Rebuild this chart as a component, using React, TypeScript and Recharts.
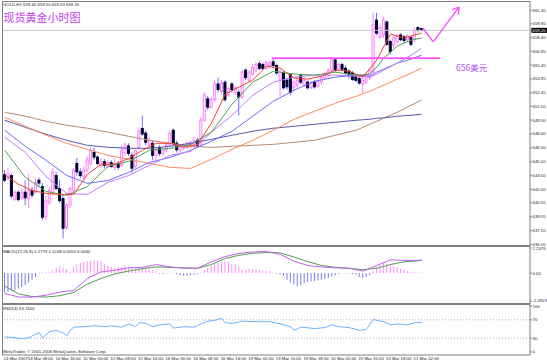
import { ComposedChart, Bar, Line, XAxis, YAxis, ReferenceLine } from 'recharts';

const W = 547;
const H = 363;

// GOLD H1 candles, bar 0 = first bar on screen
const opens = [
  643.6, 643.2, 643.5, 640.9, 641.7, 641.1, 641.7, 641.0, 641.9, 641.7,
  643.0, 642.3, 639.1, 640.6, 641.7, 643.5, 642.1, 641.0, 637.9, 640.3,
  641.9, 644.8, 643.9, 643.4, 644.1, 644.8, 646.0, 645.5, 644.6, 645.0,
  644.5, 644.9, 644.4, 644.8, 644.6, 646.0, 646.7, 645.7, 644.5, 646.5,
  648.6, 648.1, 646.8, 647.0, 645.7, 646.5, 645.9, 646.3, 646.8, 648.4,
  647.0, 646.3, 646.5, 646.6, 646.7, 646.9, 647.3, 646.9, 649.5, 651.8,
  650.9, 651.7, 653.4, 652.6, 653.6, 652.2, 653.4, 652.5, 652.5, 652.0,
  654.9, 653.8, 654.5, 654.9, 655.6, 655.5, 655.1, 655.4, 655.8, 655.4,
  653.8, 654.6, 653.8, 654.4, 653.0, 653.3, 654.3, 653.3, 653.6, 653.0,
  653.6, 653.2, 653.6, 654.1, 654.3, 654.9, 656.0, 655.1, 655.5, 655.1,
  654.8, 654.6, 654.2, 654.0, 653.4, 653.6, 654.1, 654.7, 660.3, 658.5,
  658.7, 660.1, 658.0, 657.6, 658.0, 658.7, 658.5, 658.2, 658.4, 658.2,
  659.5, 659.4,
];
const highs = [
  644.1, 644.3, 643.7, 641.9, 641.9, 642.1, 643.0, 643.7, 642.3, 643.2,
  643.3, 642.7, 641.3, 642.3, 644.3, 643.9, 643.0, 641.4, 640.5, 642.3,
  644.3, 645.4, 644.3, 644.5, 645.6, 646.6, 646.5, 645.7, 645.4, 645.3,
  645.2, 645.2, 645.4, 645.1, 646.7, 647.1, 647.0, 646.0, 645.7, 648.7,
  650.0, 648.4, 647.7, 647.3, 646.5, 646.8, 646.5, 647.1, 648.4, 648.6,
  647.3, 646.9, 647.0, 647.2, 647.3, 647.7, 647.6, 649.8, 652.5, 652.1,
  652.0, 653.8, 654.1, 653.8, 653.8, 653.1, 653.6, 653.2, 652.8, 654.9,
  655.1, 654.9, 655.6, 655.8, 655.8, 655.7, 655.9, 656.0, 656.2, 655.6,
  655.1, 654.9, 654.1, 654.6, 653.8, 654.2, 654.5, 654.1, 653.8, 653.7,
  653.8, 653.9, 654.3, 654.7, 655.1, 656.2, 656.2, 655.7, 655.7, 655.4,
  655.0, 654.8, 654.4, 654.3, 654.1, 654.5, 655.1, 661.1, 661.1, 659.8,
  660.7, 660.3, 658.2, 658.6, 658.8, 658.9, 658.7, 658.8, 658.6, 659.5,
  659.6, 659.5,
];
const lows = [
  642.8, 643.0, 641.0, 640.8, 640.7, 640.9, 640.3, 640.0, 641.1, 641.5,
  642.3, 638.7, 638.7, 640.3, 641.4, 641.9, 640.6, 636.7, 637.6, 640.0,
  641.7, 643.5, 643.2, 643.0, 643.9, 644.6, 645.2, 644.6, 644.4, 644.3,
  644.3, 644.3, 644.1, 644.1, 644.4, 645.7, 645.6, 643.8, 644.3, 646.3,
  647.8, 646.8, 646.5, 645.2, 645.2, 645.6, 645.6, 646.0, 646.6, 646.7,
  646.0, 646.0, 646.3, 646.4, 646.5, 646.7, 646.5, 646.7, 649.3, 650.6,
  650.7, 651.5, 652.5, 652.2, 651.5, 652.0, 652.5, 652.2, 650.0, 651.8,
  653.8, 653.6, 654.3, 654.7, 654.9, 654.9, 654.9, 655.1, 655.1, 654.4,
  652.1, 652.8, 652.8, 652.2, 652.5, 653.0, 653.4, 653.0, 652.8, 652.8,
  652.9, 653.0, 653.3, 653.8, 654.1, 654.7, 654.7, 654.9, 654.8, 654.4,
  654.0, 653.7, 653.6, 653.3, 652.4, 653.4, 653.8, 654.5, 658.7, 658.2,
  658.4, 657.5, 656.6, 657.3, 657.7, 658.0, 657.8, 658.0, 657.5, 657.9,
  659.0, 659.2,
];
const closes = [
  643.0, 643.7, 641.3, 641.7, 640.9, 641.7, 641.1, 641.9, 641.4, 642.7,
  642.7, 639.0, 640.8, 641.9, 643.9, 642.1, 640.8, 637.8, 640.3, 642.1,
  644.1, 643.9, 643.5, 644.1, 645.2, 646.2, 645.5, 644.8, 645.0, 644.6,
  644.9, 644.5, 644.8, 644.4, 646.2, 646.8, 645.9, 644.3, 646.2, 648.3,
  648.0, 647.1, 647.3, 645.7, 646.3, 645.9, 646.3, 646.8, 648.1, 647.0,
  646.3, 646.7, 646.8, 647.0, 647.1, 647.3, 646.7, 649.5, 652.2, 650.9,
  651.7, 653.4, 652.8, 653.5, 651.7, 652.9, 652.8, 653.0, 652.0, 654.7,
  654.1, 654.7, 655.2, 655.5, 655.1, 655.1, 655.7, 655.7, 655.4, 654.6,
  654.7, 653.0, 653.1, 652.5, 653.6, 653.8, 653.6, 653.8, 653.0, 653.5,
  653.1, 653.7, 654.1, 654.5, 654.9, 656.0, 654.9, 655.5, 655.0, 654.6,
  654.3, 653.9, 653.8, 653.5, 653.8, 654.3, 654.9, 659.8, 658.9, 659.5,
  660.3, 657.7, 656.9, 658.4, 658.6, 658.2, 658.1, 658.6, 657.7, 659.2,
  659.2, 659.2,
];

// moving averages at these bars
const maIdx = [0, 6, 12, 18, 24, 30, 36, 42, 48, 54, 60, 66, 72, 78, 84, 90, 96, 102, 106, 108, 110, 114, 118, 121];
const maGreen = [646.23, 643.31, 641.79, 641.36, 642.33, 644.5, 645.04, 646.23, 646.45, 646.88, 648.18, 651.22, 653.6, 654.79, 654.47, 654.36, 654.68, 654.36, 654.47, 655.23, 656.2, 657.5, 658.15, 658.37];
const maViolet = [647.64, 646.01, 643.41, 641.57, 641.47, 642.77, 643.52, 644.61, 645.69, 646.12, 648.18, 650.02, 652.19, 653.6, 654.14, 654.36, 654.36, 654.25, 654.14, 654.47, 654.9, 655.66, 656.52, 657.28];
const maBlue = [648.4, 646.67, 645.15, 643.52, 642.66, 642.98, 643.85, 644.93, 645.47, 646.23, 647.21, 648.29, 649.92, 651.54, 652.73, 653.71, 654.14, 654.36, 654.25, 654.68, 655.01, 655.66, 656.09, 656.52];
const maOrange = [649.8, 648.83, 647.86, 646.99, 646.34, 645.69, 645.26, 644.82, 644.39, 644.28, 645.26, 646.34, 647.32, 648.4, 649.59, 650.46, 651.32, 652.08, 652.62, 652.95, 653.27, 653.93, 654.57, 655.12];
const maSlate = [649.48, 648.72, 647.97, 647.32, 646.77, 646.56, 646.45, 646.45, 646.67, 646.99, 647.42, 647.86, 648.29, 648.62, 648.83, 649.05, 649.27, 649.48, 649.59, 649.7, 649.75, 649.92, 650.02, 650.13];
const maBrown = [650.35, 649.92, 649.37, 648.94, 648.62, 648.18, 647.75, 647.32, 646.99, 646.67, 646.56, 646.67, 646.77, 646.88, 647.1, 647.32, 647.86, 648.4, 649.05, 649.37, 649.7, 650.35, 651.11, 651.65];

// fast MA and MACD lines, read every 4 bars
const fastIdx = [0, 4, 8, 12, 16, 20, 24, 28, 32, 36, 40, 44, 48, 52, 56, 60, 64, 68, 72, 76, 80, 84, 88, 92, 96, 100, 104, 108, 112, 116, 120, 121];
const maRed = [643.63, 642.55, 641.9, 641.57, 641.47, 641.47, 643.63, 644.72, 644.72, 645.37, 646.23, 646.99, 646.99, 646.56, 646.88, 649.16, 652.3, 653.06, 653.82, 655.33, 655.12, 654.03, 653.93, 654.25, 654.9, 654.79, 654.14, 655.98, 658.8, 658.37, 658.8, 658.91];
const macdMain = [-1.81, -2.14, -2.14, -1.98, -1.69, -1.56, -0.48, 0.1, 0.26, 0.47, 0.51, 0.76, 0.55, 0.43, 0.43, 1.01, 1.47, 1.76, 1.88, 1.92, 1.67, 1.05, 0.68, 0.55, 0.47, 0.43, 0.18, 0.68, 1.18, 1.13, 1.13, 1.18];
const macdSignal = [-1.15, -1.85, -2.1, -2.14, -2.02, -1.73, -0.98, -0.48, -0.07, 0.18, 0.39, 0.55, 0.51, 0.47, 0.43, 0.76, 1.3, 1.59, 1.76, 1.84, 1.8, 1.43, 1.01, 0.68, 0.51, 0.43, 0.3, 0.43, 0.76, 1.01, 1.1, 1.12];
const macdHist = [
  -1.75, -1.7, -1.6, -1.55, -1.4, -1.25, -1.05, -0.85, -0.6, -0.35,
  0.05, 0.15, 0.05, 0.1, 0.2, 0.5, 0.6, 0.5, 0.35, 0.1,
  0.55, 0.75, 0.9, 1.0, 1.05, 1.1, 1.15, 1.1, 1.0, 0.85,
  0.65, 0.55, 0.5, 0.5, 0.6, 0.7, 0.55, 0.45, 0.4, 0.5,
  0.55, 0.45, 0.35, 0.25, 0.15, -0.05, -0.08, -0.05, -0.05, 0.05,
  -0.1, -0.2, -0.25, -0.25, -0.2, -0.15, -0.1, 0.05, 0.3, 0.5,
  0.65, 0.8, 0.9, 1.0, 1.05, 1.0, 0.8, 0.75, 0.55, 0.35,
  0.3, 0.4, 0.35, 0.3, 0.3, 0.25, 0.2, 0.15, 0.05, -0.05,
  -0.15, -0.25, -0.6, -0.85, -1.0, -1.15, -1.05, -0.9, -0.8, -0.75,
  -0.7, -0.65, -0.6, -0.55, -0.45, -0.3, -0.2, -0.1, 0, -0.05,
  -0.05, -0.1, -0.15, -0.35, -0.4, -0.35, -0.2, 0.2, 0.5, 0.75,
  0.9, 0.85, 0.7, 0.6, 0.55, 0.4, 0.3, 0.2, 0.15, 0.1,
  0.05, 0.05,
];

const rsiIdx = [0, 3, 5, 7, 9, 10, 11, 13, 15, 17, 18, 19, 20, 23, 26, 29, 31, 34, 36, 38, 39, 41, 43, 45, 48, 49, 52, 55, 57, 59, 61, 63, 64, 66, 69, 73, 77, 80, 83, 84, 86, 90, 93, 95, 97, 100, 103, 105, 107, 109, 110, 112, 114, 117, 119, 121];
const rsiVals = [33, 31, 29, 31, 39, 42, 31, 44, 47, 41, 35, 47, 54, 55, 57, 55, 57, 54, 61, 55, 64, 62, 55, 59, 61, 52, 55, 54, 61, 67, 69, 73, 64, 62, 67, 66, 66, 61, 55, 47, 54, 51, 53, 59, 55, 53, 47, 49, 71, 67, 66, 59, 61, 59, 64, 63.74];

const priceTicks = [661.4, 659.9, 659.2, 658.4, 656.95, 655.45, 653.95, 652.45, 651.0, 649.5, 648.0, 646.5, 645.0, 643.5, 642.0, 640.55, 639.05, 637.55, 636.05];
const lastPrice = 659.2;
const macdTicks = [2.2376, 0, -2.4923];
const rsiTicks = [100, 70, 30, 0];
const timeIdx = [0, 7, 15, 23, 31, 39, 47, 55, 63, 71, 79, 87, 95, 103, 111, 119];
const timeLabels = ['13 Mar 2007', '14 Mar 08:00', '14 Mar 16:00', '15 Mar 00:00', '15 Mar 08:00', '15 Mar 16:00', '16 Mar 00:00', '16 Mar 08:00', '16 Mar 16:00', '19 Mar 02:00', '19 Mar 10:00', '19 Mar 18:00', '20 Mar 02:00', '20 Mar 10:00', '20 Mar 18:00', '21 Mar 02:00'];

// hand drawn marks: resistance line at 656 and the forecast arrow
const resistance = { from: 77.5, to: 126.4, price: 656.2 };
const arrowPts = [{ x: 121.4, y: 659.45 }, { x: 124.4, y: 657.95 }, { x: 131.9, y: 661.72 }];
const arrowWings = [{ x: 129.9, y: 661.45 }, { x: 131.7, y: 660.9 }];

const rows: any[] = opens.map((o, i) => ({
  i, o, h: highs[i], l: lows[i], c: closes[i],
  range: [lows[i], highs[i]],
  hist: macdHist[i],
}));
maIdx.forEach((bar, k) => {
  Object.assign(rows[bar], {
    maGreen: maGreen[k], maViolet: maViolet[k], maBlue: maBlue[k],
    maOrange: maOrange[k], maSlate: maSlate[k], maBrown: maBrown[k],
  });
});
fastIdx.forEach((bar, k) => {
  Object.assign(rows[bar], { maRed: maRed[k], macd: macdMain[k], signal: macdSignal[k] });
});
rsiIdx.forEach((bar, k) => { rows[bar].rsi = rsiVals[k]; });

const xDomain = [-0.5, 152.5];
const tiny = 4.3;
const font = '"Liberation Sans", Arial, sans-serif';
const bull = '#ff7fff';
const bearBody = '#000033';
const bearWick = '#6f6fff';

function Candle(props: any) {
  const { x, y, width, height, payload } = props;
  if (!payload || payload.c == null) return null;
  const top = Math.min(y, y + height);
  const span = Math.abs(height);
  const { o, h, l, c } = payload;
  const k = h > l ? span / (h - l) : 0;
  const yo = top + (h - o) * k;
  const yc = top + (h - c) * k;
  const up = c >= o;
  const cx = x + width / 2;
  return (
    <g>
      <line x1={cx} x2={cx} y1={top} y2={top + span} stroke={up ? bull : bearWick} strokeWidth={1} />
      <rect
        x={x + 0.5}
        y={Math.min(yo, yc)}
        width={width - 1}
        height={Math.max(Math.abs(yo - yc), 1)}
        fill={up ? '#ffffff' : bearBody}
        stroke={up ? bull : bearBody}
        strokeWidth={1}
      />
    </g>
  );
}

function HistBar(props: any) {
  const { x, y, width, height, payload } = props;
  const top = Math.min(y, y + height);
  return <rect x={x} y={top} width={width} height={Math.abs(height)} fill={payload.hist >= 0 ? '#ff8cff' : '#7a7aee'} />;
}

function PriceTick(props: any) {
  const { x, y, payload } = props;
  const v = payload.value;
  if (v === lastPrice) {
    return (
      <g>
        <rect x={x - 1} y={y - 2.5} width={16} height={5} fill="#000" />
        <text x={x} y={y} dominantBaseline="central" fontSize={tiny} fontFamily={font} fill="#fff">{v.toFixed(2)}</text>
      </g>
    );
  }
  return <text x={x} y={y} dominantBaseline="central" fontSize={tiny} fontFamily={font} fill="#222">{v.toFixed(2)}</text>;
}

function SideTick(props: any) {
  const { x, y, payload, fmt } = props;
  return <text x={x} y={y} dominantBaseline="central" fontSize={tiny} fontFamily={font} fill="#222">{fmt(payload.value)}</text>;
}

function TimeTick(props: any) {
  const { x, y, payload } = props;
  const n = timeIdx.indexOf(payload.value);
  return <text x={x - 1} y={y + 5.5} dominantBaseline="central" fontSize={tiny} fontFamily={font} fill="#222">{timeLabels[n]}</text>;
}

const maLines = [
  { key: 'maBrown', color: '#b98a6e' },
  { key: 'maSlate', color: '#5858b0' },
  { key: 'maOrange', color: '#ff8a5c' },
  { key: 'maBlue', color: '#6b6bff' },
  { key: 'maViolet', color: '#c07cf5' },
  { key: 'maGreen', color: '#4fa04f' },
  { key: 'maRed', color: '#f0402a' },
];

export default function App() {
  return (
    <div style={{ position: 'absolute', left: 0, top: 0, width: W, height: H, background: '#fff', overflow: 'hidden' }}>
      <svg width={W} height={H} style={{ position: 'absolute', left: 0, top: 0 }}>
        <rect x={2.5} y={1.5} width={527.5} height={244} fill="none" stroke="#808080" />
        <rect x={2.5} y={246.5} width={527.5} height={57} fill="none" stroke="#808080" />
        <rect x={2.5} y={304.5} width={527.5} height={50.5} fill="none" stroke="#808080" />
      </svg>

      <div style={{ position: 'absolute', left: 0, top: 0 }}>
        <ComposedChart width={W} height={246} data={rows} margin={{ top: 2, right: 0, bottom: 0, left: 3 }}>
          <XAxis dataKey="i" type="number" domain={xDomain} hide allowDataOverflow />
          <YAxis
            orientation="right"
            width={17}
            domain={[635.89, 662.265]}
            allowDataOverflow
            ticks={priceTicks}
            interval={0}
            tickSize={2}
            tickMargin={0.5}
            axisLine={false}
            tickLine={{ stroke: '#808080' }}
            tick={<PriceTick />}
          />
          <ReferenceLine y={lastPrice} stroke="#c8c8c8" />
          <Bar dataKey="range" barSize={3} shape={<Candle />} isAnimationActive={false} />
          {maLines.map((m) => (
            <Line key={m.key} dataKey={m.key} type="linear" stroke={m.color} strokeWidth={1} dot={false} connectNulls isAnimationActive={false} />
          ))}
          <ReferenceLine
            segment={[{ x: resistance.from, y: resistance.price }, { x: resistance.to, y: resistance.price }]}
            stroke="#ff4fff"
            strokeWidth={1.6}
          />
          <ReferenceLine segment={[arrowPts[0], arrowPts[1]]} stroke="#ff4fff" strokeWidth={1.4} />
          <ReferenceLine segment={[arrowPts[1], arrowPts[2]]} stroke="#ff4fff" strokeWidth={1.4} />
          <ReferenceLine segment={[arrowWings[0], arrowPts[2]]} stroke="#ff4fff" strokeWidth={1.4} />
          <ReferenceLine segment={[arrowWings[1], arrowPts[2]]} stroke="#ff4fff" strokeWidth={1.4} />
        </ComposedChart>
      </div>

      <div style={{ position: 'absolute', left: 0, top: 246 }}>
        <ComposedChart width={W} height={57} data={rows} margin={{ top: 1, right: 0, bottom: 0, left: 3 }}>
          <XAxis dataKey="i" type="number" domain={xDomain} hide allowDataOverflow />
          <YAxis
            orientation="right"
            width={17}
            domain={[-2.671, 2.327]}
            allowDataOverflow
            ticks={macdTicks}
            interval={0}
            tickSize={2}
            tickMargin={0.5}
            axisLine={false}
            tickLine={{ stroke: '#808080' }}
            tick={<SideTick fmt={(v: number) => (v === 0 ? '0.00' : String(v))} />}
          />
          <Bar dataKey="hist" barSize={1} shape={<HistBar />} isAnimationActive={false} />
          <Line dataKey="signal" type="linear" stroke="#4f9f4f" strokeWidth={1} dot={false} connectNulls isAnimationActive={false} />
          <Line dataKey="macd" type="linear" stroke="#c45cf0" strokeWidth={1} dot={false} connectNulls isAnimationActive={false} />
        </ComposedChart>
      </div>

      <div style={{ position: 'absolute', left: 0, top: 304 }}>
        <ComposedChart width={W} height={59} data={rows} margin={{ top: 1, right: 0, bottom: 2, left: 3 }}>
          <XAxis
            dataKey="i"
            type="number"
            domain={xDomain}
            allowDataOverflow
            ticks={timeIdx}
            interval={0}
            height={8}
            tickSize={0}
            tickMargin={0}
            axisLine={false}
            tick={<TimeTick />}
          />
          <YAxis
            orientation="right"
            width={17}
            domain={[-2.2, 102.2]}
            allowDataOverflow
            ticks={rsiTicks}
            interval={0}
            tickSize={2}
            tickMargin={0.5}
            axisLine={false}
            tickLine={{ stroke: '#808080' }}
            tick={<SideTick fmt={(v: number) => String(v)} />}
          />
          <ReferenceLine y={70} stroke="#a8a8a8" strokeDasharray="1 2" />
          <ReferenceLine y={30} stroke="#a8a8a8" strokeDasharray="1 2" />
          <Line dataKey="rsi" type="linear" stroke="#69b4ff" strokeWidth={1} dot={false} connectNulls isAnimationActive={false} />
        </ComposedChart>
      </div>

      <svg width={W} height={H} style={{ position: 'absolute', left: 0, top: 0, pointerEvents: 'none' }}>
        <g fontFamily={font} fontSize={tiny} fill="#222">
          <text x={3} y={4.5} dominantBaseline="central">GOLD,H1 659.40 659.50 659.20 659.20</text>
          <text x={3} y={251} dominantBaseline="central">MACD(12,26,9) 1.1773 1.1248 0.0050 0.0000</text>
          <text x={3} y={308} dominantBaseline="central">RSI(14) 63.7400</text>
          <text x={3} y={351} dominantBaseline="central">MetaTrader, © 2001-2006 MetaQuotes Software Corp.</text>
        </g>
        <text x={3.5} y={16.5} dominantBaseline="central" fontSize={11} fontFamily='"Noto Sans CJK SC", sans-serif' fill="#c040f0">现货黄金小时图</text>
        <text x={456} y={66.5} dominantBaseline="central" fontSize={8.5} fontFamily='"Noto Sans CJK SC", sans-serif' fill="#b050e8">656美元</text>
      </svg>
    </div>
  );
}
